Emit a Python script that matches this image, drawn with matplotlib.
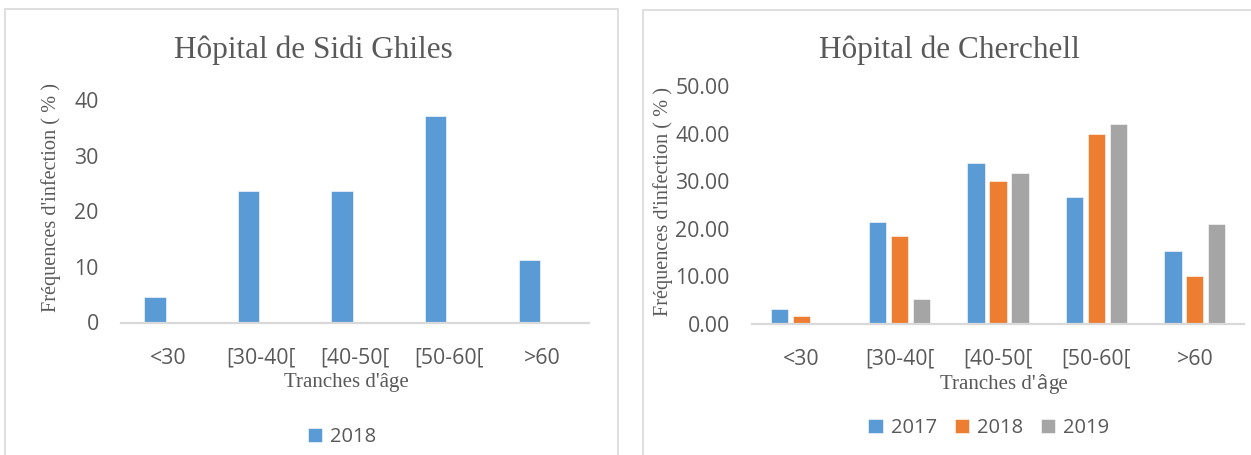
import matplotlib
matplotlib.use("Agg")
import matplotlib.pyplot as plt
from matplotlib.patches import Rectangle
import numpy as np

# Data
categories = ["<30", "[30-40[", "[40-50[", "[50-60[", ">60"]
sidi_2018 = [4.5, 23.6, 23.6, 37.1, 11.2]
cherchell_2017 = [3.0, 21.4, 33.7, 26.6, 15.3]
cherchell_2018 = [1.6, 18.4, 30.0, 40.0, 10.0]
cherchell_2019 = [0.0, 5.2, 31.6, 42.1, 21.0]

BLUE = "#5B9BD5"
ORANGE = "#ED7D31"
GRAY = "#A5A5A5"
TXT = "#595959"
LINE = "#D9D9D9"
SANS = ["Open Sans", "DejaVu Sans"]
SERIF = ["Liberation Serif", "DejaVu Serif"]

W, H = 1251, 455
fig = plt.figure(figsize=(W / 100, H / 100), dpi=100)
fig.patch.set_facecolor("white")


def px_axes(x0, x1, y_top, y_bot):
    return fig.add_axes([x0 / W, (H - y_bot) / H, (x1 - x0) / W, (y_bot - y_top) / H])


def style(ax, ymax, fmt):
    for s in ("top", "right", "left"):
        ax.spines[s].set_visible(False)
    ax.spines["bottom"].set_color(LINE)
    ax.spines["bottom"].set_linewidth(1.6)
    ax.set_xlim(-0.5, 4.5)
    ax.set_ylim(0, ymax)
    ax.set_xticks(range(len(categories)))
    ax.set_xticklabels(categories)
    ax.tick_params(axis="both", length=0, colors=TXT, labelsize=15.3)
    ax.tick_params(axis="y", pad=16)
    ax.tick_params(axis="x", pad=18)
    for lab in ax.get_xticklabels() + ax.get_yticklabels():
        lab.set_family(SANS)
    ax.yaxis.set_major_formatter(matplotlib.ticker.FormatStrFormatter(fmt))
    ax.patch.set_alpha(0)


# Panel frames
fig.add_artist(Rectangle((5 / W, -0.05), 613 / W, (H - 9) / H + 0.05, transform=fig.transFigure,
                         fill=False, edgecolor=LINE, lw=1.2))
fig.add_artist(Rectangle((643 / W, -0.05), 700 / W, (H - 10) / H + 0.05, transform=fig.transFigure,
                         fill=False, edgecolor=LINE, lw=1.2))

x = np.arange(len(categories))
ylab = "Fréquences d'infection ( % )"

# Left chart: Hôpital de Sidi Ghiles
ax1 = px_axes(121, 589, 100, 322.5)
b1 = ax1.bar(x - 0.138, sidi_2018, width=0.227, color=BLUE, edgecolor="white", linewidth=0.4, label="2018")
ax1.set_yticks([0, 10, 20, 30, 40])
style(ax1, 40, "%d")

fig.text(313 / W, (H - 50) / H, "Hôpital de Sidi Ghiles", ha="center", va="center",
         fontsize=22.5, color=TXT, family=SERIF)
fig.text(51 / W, (H - 197) / H, ylab, ha="center", va="center",
         rotation=90, fontsize=14.6, color=TXT, family=SERIF)
fig.text(346 / W, (H - 383) / H, "Tranches d'âge", ha="center", va="center",
         fontsize=15, color=TXT, family=SERIF)

leg1 = fig.legend(handles=[b1], loc="center", bbox_to_anchor=(342 / W, (H - 437) / H),
                  frameon=False, handlelength=0.7, handleheight=0.7,
                  handletextpad=0.4, prop={"family": SANS, "size": 14.5})
for t in leg1.get_texts():
    t.set_color(TXT)

# Right chart: Hôpital de Cherchell
ax2 = px_axes(752, 1244, 86, 323.7)
step, bw = 0.223, 0.176
r1 = ax2.bar(x - step, cherchell_2017, width=bw, color=BLUE, edgecolor="white", linewidth=0.4, label="2017")
r2 = ax2.bar(x, cherchell_2018, width=bw, color=ORANGE, edgecolor="white", linewidth=0.4, label="2018")
r3 = ax2.bar(x + step, cherchell_2019, width=bw, color=GRAY, edgecolor="white", linewidth=0.4, label="2019")
ax2.set_yticks([0, 10, 20, 30, 40, 50])
style(ax2, 50, "%.2f")

fig.text(949 / W, (H - 50) / H, "Hôpital de Cherchell", ha="center", va="center",
         fontsize=22.5, color=TXT, family=SERIF)
fig.text(663 / W, (H - 202) / H, ylab, ha="center", va="center",
         rotation=90, fontsize=14.6, color=TXT, family=SERIF)

leg2 = fig.legend(handles=[r1, r2, r3], loc="center", bbox_to_anchor=(989 / W, (H - 428) / H),
                  ncol=3, frameon=False, handlelength=0.7, handleheight=0.7,
                  handletextpad=0.4, columnspacing=0.9, prop={"family": SANS, "size": 14.5})
for t in leg2.get_texts():
    t.set_color(TXT)

# x-axis title of the right chart, with the accented letter set in the sans face
renderer = fig.canvas.get_renderer()
base_y = (H - 389) / H
pieces = [("Tranches d'", SERIF, 15), ("â", SANS, 14.5), ("ge", SERIF, 15)]
cur_x = 940
for s, fam, size in pieces:
    t = fig.text(cur_x / W, base_y, s, ha="left", va="baseline", fontsize=size, color=TXT, family=fam)
    ext = t.get_window_extent(renderer)
    cur_x = ext.x1 + 0.5

fig.savefig("out.png", dpi=100, facecolor="white")
